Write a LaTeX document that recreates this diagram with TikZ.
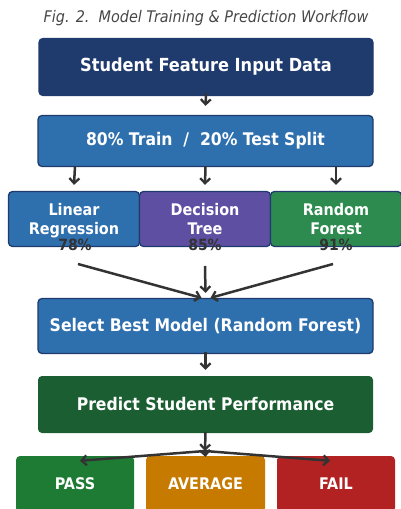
\documentclass[tikz,border=0pt]{standalone}
\usepackage{fontspec}
\setmainfont{DejaVu Sans Condensed}
\usetikzlibrary{arrows.meta}
\definecolor{navy}{HTML}{1F3B6E}
\definecolor{midblue}{HTML}{2E6FAE}
\definecolor{purp}{HTML}{5E4FA2}
\definecolor{rfgreen}{HTML}{2E8B4F}
\definecolor{dkgreen}{HTML}{1B5E32}
\definecolor{passg}{HTML}{1E7B34}
\definecolor{avgo}{HTML}{C77A00}
\definecolor{failr}{HTML}{B22222}
\definecolor{arr}{HTML}{333333}
\newcommand{\tallstrut}{\rule{0pt}{17.5pt}}
\tikzset{
  box/.style={rounded corners=4pt, draw=navy, line width=1.3pt, text=white,
    font=\bfseries\fontsize{17.4}{20}\selectfont, align=center, inner sep=0pt},
  plainbox/.style={rounded corners=4pt, text=white,
    font=\bfseries\fontsize{17.4}{20}\selectfont, align=center, inner sep=0pt},
  small/.style={font=\bfseries\fontsize{16}{19}\selectfont},
  flow/.style={draw=arr, line width=2.5pt, -{Straight Barb[length=5pt,width=10pt,line width=2.3pt]}},
  pct/.style={text=arr, font=\bfseries\fontsize{15.5}{18}\selectfont}
}
\begin{document}
\begin{tikzpicture}[x=1pt,y=1pt]
\useasboundingbox (0,0) rectangle (400,-509);
\node (title) at (206,-18.5) {\itshape\color{arr!90}\fontsize{16}{18}\selectfont Fig. 2.\ \ Model Training \& Prediction Workflow};
\node[box, fill=navy, minimum width=334pt, minimum height=57pt, font=\bfseries\fontsize{18}{20}\selectfont] (input) at (206,-67) {Student Feature Input Data};
\node[box, fill=midblue, minimum width=335pt, minimum height=51pt] (split) at (205.5,-141) {80\% Train\ \ /\ \ 20\% Test Split};
\node[box, small, fill=midblue, minimum width=131pt, minimum height=55pt] (lr) at (74,-219) {\tallstrut Linear\strut\\Regression\strut};
\node[box, small, fill=purp, minimum width=131pt, minimum height=55pt] (dt) at (205,-219) {\tallstrut Decision\strut\\Tree\strut};
\node[box, small, fill=rfgreen, minimum width=131pt, minimum height=55pt] (rf) at (336,-219) {\tallstrut Random\strut\\Forest\strut};
\node[pct] (plr) at (75,-245) {78\%};
\node[pct] (pdt) at (205,-245) {85\%};
\node[pct] (prf) at (336,-245) {91\%};
\node[box, fill=midblue, minimum width=335pt, minimum height=55pt] (select) at (205.5,-326) {Select Best Model (Random Forest)};
\node[plainbox, fill=dkgreen, minimum width=335pt, minimum height=57pt] (predict) at (205.5,-404.5) {Predict Student Performance};
\node[plainbox, small, fill=passg, minimum width=118pt, minimum height=56pt] (pass) at (75,-484) {PASS};
\node[plainbox, small, fill=avgo, minimum width=119pt, minimum height=56pt] (avg) at (205.5,-484) {AVERAGE};
\node[plainbox, small, fill=failr, minimum width=118pt, minimum height=56pt] (fail) at (336,-484) {FAIL};
% connectors
\draw[flow] ([yshift=3pt]input.south) -- ([yshift=9pt]split.north);
\draw[flow] ([xshift=-130.5pt,yshift=1pt]split.south) -- ([yshift=6pt]lr.north);
\draw[flow] ([yshift=1pt]split.south) -- ([yshift=6pt]dt.north);
\draw[flow] ([xshift=130.5pt,yshift=1pt]split.south) -- ([yshift=6pt]rf.north);
\coordinate (lrout) at (78,-264);
\coordinate (dtout) at (205,-266);
\coordinate (rfout) at (333,-264);
\draw[flow] (lrout) -- ([xshift=-4pt]select.north);
\draw[flow] (dtout) -- ([yshift=5pt]select.north);
\draw[flow] (rfout) -- ([xshift=5pt]select.north);
\draw[flow] ([yshift=2pt]select.south) -- ([yshift=6pt]predict.north);
\coordinate (junc) at (205,-451);
\draw[flow] ([yshift=1pt]predict.south) -- (junc);
\draw[flow] (junc) -- ([xshift=5pt,yshift=-5pt]pass.north);
\draw[flow] (junc) -- ([yshift=-1pt]avg.north);
\draw[flow] (junc) -- ([xshift=-6pt,yshift=-5pt]fail.north);
\end{tikzpicture}
\end{document}
